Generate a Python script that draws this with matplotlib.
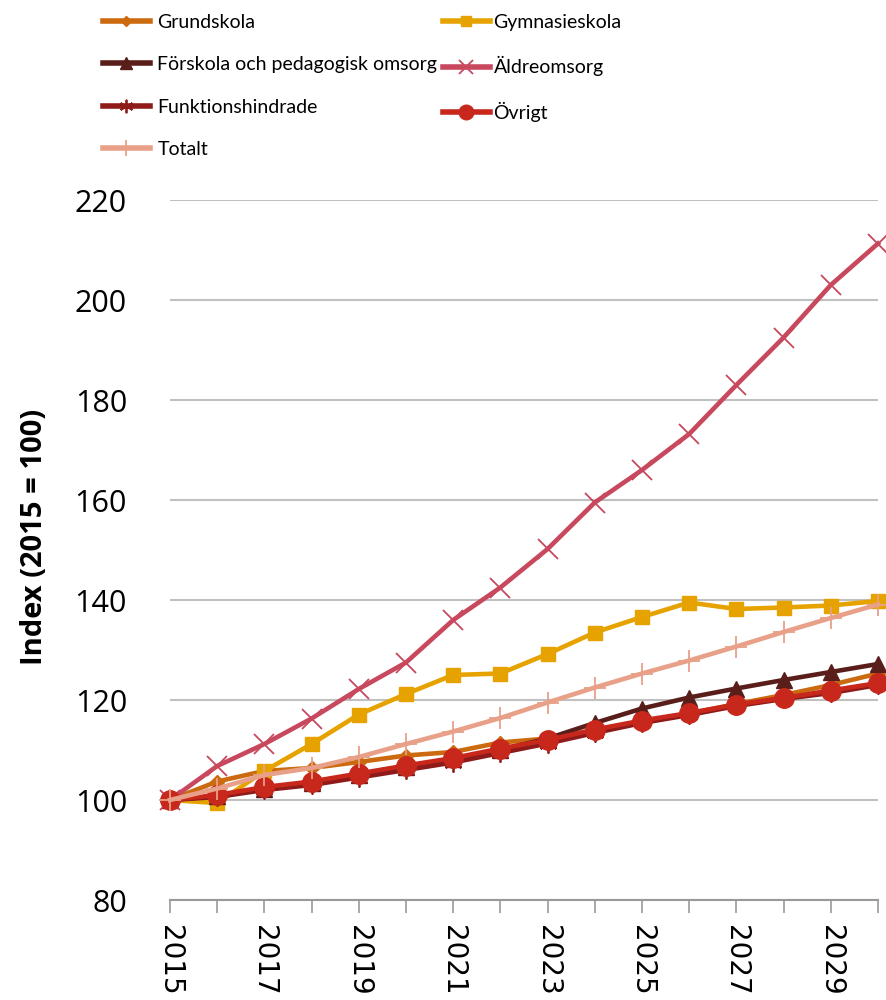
import matplotlib
matplotlib.use("Agg")
import matplotlib.pyplot as plt

years = list(range(2015, 2031))
series_names = ["Grundskola", "Gymnasieskola", "Förskola och pedagogisk omsorg",
                "Äldreomsorg", "Funktionshindrade", "Övrigt", "Totalt"]
grundskola = [100, 103.7, 105.8, 106.4, 107.6, 108.9, 109.6, 111.5, 112.3, 113.9, 115.4, 117.3, 119.2, 121.0, 123.0, 125.3]
gymnasieskola = [100, 99.4, 105.8, 111.2, 117.1, 121.2, 125.0, 125.3, 129.2, 133.5, 136.6, 139.5, 138.2, 138.5, 138.9, 139.8]
forskola = [100, 100.8, 102.3, 103.4, 105.0, 106.6, 108.2, 110.0, 112.3, 115.4, 118.3, 120.5, 122.3, 124.0, 125.6, 127.2]
aldreomsorg = [100, 106.8, 111.2, 116.3, 122.2, 127.5, 136.0, 142.5, 150.2, 159.5, 166.0, 173.2, 183.0, 192.5, 203.0, 211.3]
funktionshindrade = [100, 100.6, 102.0, 103.0, 104.5, 106.0, 107.5, 109.4, 111.3, 113.4, 115.4, 117.0, 118.8, 120.2, 121.4, 123.0]
ovrigt = [100, 101.0, 102.6, 103.7, 105.3, 106.9, 108.4, 110.3, 112.0, 114.1, 115.9, 117.4, 119.1, 120.4, 121.9, 123.4]
totalt = [100, 102.3, 105.0, 106.4, 108.6, 111.2, 113.7, 116.4, 119.5, 122.5, 125.3, 127.9, 130.7, 133.6, 136.4, 139.1]
y_ticks = [80, 100, 120, 140, 160, 180, 200, 220]
x_labels = [str(y) if y % 2 == 1 else "" for y in years]
y_label = "Index (2015 = 100)"

values = [grundskola, gymnasieskola, forskola, aldreomsorg, funktionshindrade, ovrigt, totalt]
colors = ["#CC6A10", "#E6A300", "#5A1E1A", "#C8485E", "#8F1A1A", "#C8281C", "#E8A088"]
markers = ["D", "s", "^", "x", (6, 2, 0), "o", "+"]
msizes = [7, 10, 11, 14, 13, 14, 16]
mews = [1, 1, 1, 1.3, 1.3, 1, 1.3]

fig = plt.figure(figsize=(8.86, 10), dpi=100)
ax = fig.add_axes([170/886, 0.1, (878-170)/886, 0.7])

handles = []
for vals, c, m, ms, mew, name in zip(values, colors, markers, msizes, mews, series_names):
    h, = ax.plot(years, vals, color=c, lw=3.3, marker=m, markersize=ms,
                 markeredgewidth=mew, markeredgecolor=c, markerfacecolor=c,
                 clip_on=False, label=name, zorder=3)
    handles.append(h)

ax.set_xlim(2015, 2030)
ax.set_ylim(80, 220)
ax.set_yticks(y_ticks)
ax.set_yticklabels([str(v) for v in y_ticks], fontfamily="Open Sans", fontsize=22)
ax.tick_params(axis="y", length=0, pad=31)
ax.set_xticks(years)
ax.set_xticklabels(x_labels, rotation=270, fontfamily="DejaVu Sans", fontsize=20,
                   va="top", ha="center")
ax.tick_params(axis="x", length=9, width=1.2, color="#999999", pad=9)
ax.yaxis.grid(True, color="#C0C0C0", lw=1.5, zorder=0)
ax.set_axisbelow(True)
for s in ["top", "right", "left"]:
    ax.spines[s].set_visible(False)
ax.spines["bottom"].set_color("#999999")
ax.spines["bottom"].set_linewidth(1.5)
fig.text(35/886, 1-537/1000, y_label, rotation=90, ha="center", va="center",
         fontfamily="Open Sans", fontweight="bold", fontsize=21)

col1 = [handles[i] for i in [0, 2, 4, 6]]
col2 = [handles[i] for i in [1, 3, 5]]
leg_kw = dict(frameon=False, prop={"family": "Lato", "size": 14}, handlelength=2.4,
              handletextpad=0.4, labelspacing=1.3, borderaxespad=0, borderpad=0)
l1 = fig.legend(handles=col1, loc="upper left", bbox_to_anchor=(103/886, 1-14/1000), **leg_kw)
leg_kw["handletextpad"] = 0.2
l2 = fig.legend(handles=col2, loc="upper left", bbox_to_anchor=(443/886, 1-14/1000), **leg_kw)
for leg in (l1, l2):
    for lh in leg.legend_handles:
        lh.set_markersize(lh.get_markersize() * 0.75)
        lh.set_linewidth(4)

fig.savefig("out.png", dpi=100)
